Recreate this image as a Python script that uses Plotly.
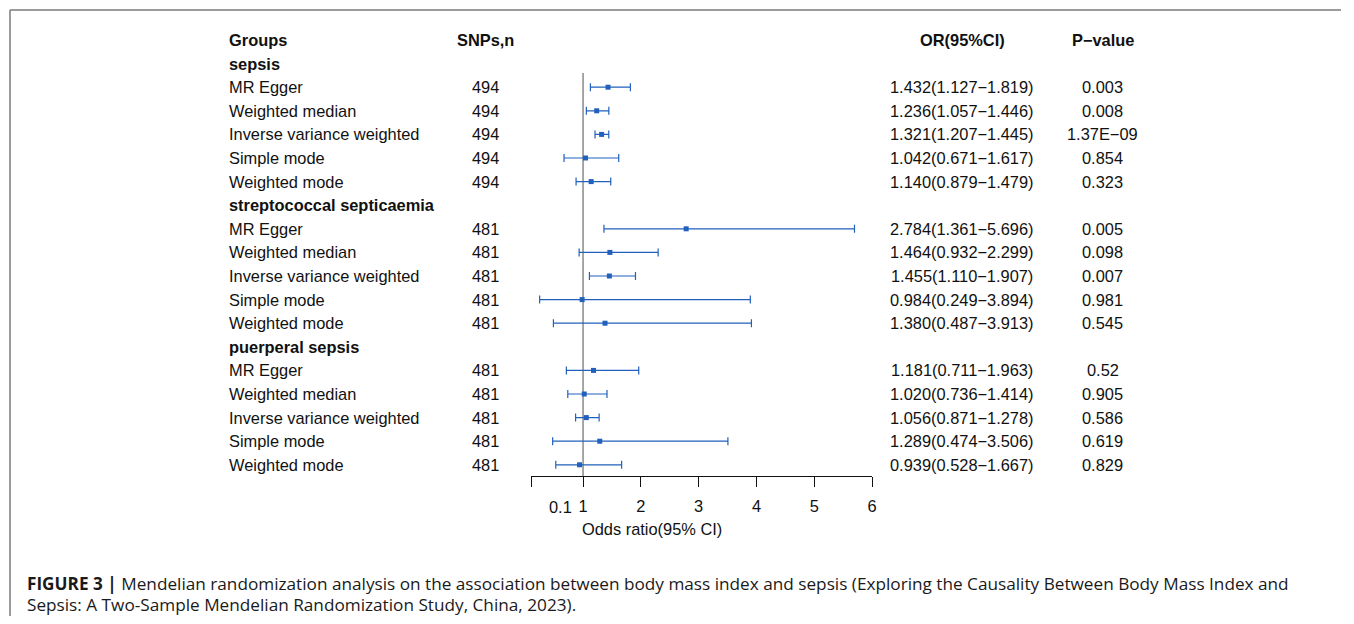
import plotly.graph_objects as go

groups = ["sepsis", "streptococcal septicaemia", "puerperal sepsis"]
methods = ["MR Egger", "Weighted median", "Inverse variance weighted", "Simple mode", "Weighted mode"]
snps = [494, 481, 481]
or_vals = [[1.432, 1.236, 1.321, 1.042, 1.140],
           [2.784, 1.464, 1.455, 0.984, 1.380],
           [1.181, 1.020, 1.056, 1.289, 0.939]]
ci_low = [[1.127, 1.057, 1.207, 0.671, 0.879],
          [1.361, 0.932, 1.110, 0.249, 0.487],
          [0.711, 0.736, 0.871, 0.474, 0.528]]
ci_high = [[1.819, 1.446, 1.445, 1.617, 1.479],
           [5.696, 2.299, 1.907, 3.894, 3.913],
           [1.963, 1.414, 1.278, 3.506, 1.667]]
p_vals = [["0.003", "0.008", "1.37E\u221209", "0.854", "0.323"],
          ["0.005", "0.098", "0.007", "0.981", "0.545"],
          ["0.52", "0.905", "0.586", "0.619", "0.829"]]
tick_vals = [0.1, 1, 2, 3, 4, 5, 6]
tick_text = ["", "1", "2", "3", "4", "5", "6"]

OFF = 8  # page body margin
W, H = 1354 - 2 * OFF, 624 - 2 * OFF
FONT = "Liberation Sans, Arial, sans-serif"
CAPFONT = "Open Sans, Liberation Sans, Arial, sans-serif"
BLUE = "#2160bd"
FS = 16.4

ROW0 = 40.0 - OFF
ROWH = 23.6
AXIS_Y = 476.0 - OFF
y_top = -ROW0 / ROWH
y_bot = (AXIS_Y - ROW0) / ROWH

px = lambda p: (p - OFF) / W   # screen x -> paper
py = lambda p: 1 - (p - OFF) / H  # screen y -> paper

xs, ys, em, ep = [], [], [], []
ann = []

def txt(x, y, s, anchor="center", bold=False, size=FS):
    ann.append(dict(x=px(x), y=y, xref="paper", yref="y", text=("<b>%s</b>" % s) if bold else s,
                    showarrow=False, xanchor=anchor, yanchor="middle",
                    font=dict(family=FONT, size=size, color="#111")))

txt(228, 0, "Groups", "left", True)
txt(487, 0, "SNPs,n", "center", True)
txt(966, 0, "OR(95%CI)", "center", True)
txt(1107, 0, "P\u2212value", "center", True)

row = 1
for g, name in enumerate(groups):
    txt(228, row, name, "left", True)
    row += 1
    for m, meth in enumerate(methods):
        o, lo, hi = or_vals[g][m], ci_low[g][m], ci_high[g][m]
        xs.append(o); ys.append(row); em.append(o - lo); ep.append(hi - o)
        txt(228, row, meth, "left")
        txt(487, row, str(snps[g]))
        txt(966, row, "%.3f(%.3f\u2212%.3f)" % (o, lo, hi))
        txt(1107, row, p_vals[g][m])
        row += 1

fig = go.Figure()
fig.add_trace(go.Scatter(
    x=xs, y=ys, mode="markers",
    marker=dict(symbol="square", size=5, color=BLUE),
    error_x=dict(type="data", symmetric=False, array=ep, arrayminus=em,
                 color=BLUE, thickness=1.2, width=4),
    showlegend=False, hoverinfo="skip"))

# reference line at OR = 1
fig.add_shape(type="line", xref="x", yref="y", x0=1, x1=1, y0=1.4, y1=y_bot,
              line=dict(color="#8a8a8a", width=1.5), layer="below")

# frame lines
fig.add_shape(type="line", xref="paper", yref="paper", x0=px(10), x1=1, y0=py(10), y1=py(10),
              line=dict(color="#7a7a7a", width=1.5))
fig.add_shape(type="line", xref="paper", yref="paper", x0=px(10), x1=px(10), y0=0, y1=py(10),
              line=dict(color="#7a7a7a", width=1.5))

# extra tick label for 0.1 (drawn beside the 1 as in the reference)
ann.append(dict(x=0.61, y=py(507), xref="x", yref="paper", text="0.1", showarrow=False,
                xanchor="center", yanchor="middle",
                font=dict(family=FONT, size=FS, color="#111")))
ann.append(dict(x=px(654), y=py(529), xref="paper", yref="paper", text="Odds ratio(95% CI)",
                showarrow=False, xanchor="center", yanchor="middle",
                font=dict(family=FONT, size=FS, color="#111")))
ann.append(dict(x=px(25), y=py(583), xref="paper", yref="paper",
                text="<b>FIGURE 3 |</b> Mendelian randomization analysis on the association between body mass index and sepsis (Exploring the Causality Between Body Mass Index and",
                showarrow=False, xanchor="left", yanchor="middle",
                font=dict(family=CAPFONT, size=17.2, color="#1a1a1a")))
ann.append(dict(x=px(25), y=py(604), xref="paper", yref="paper",
                text="Sepsis: A Two-Sample Mendelian Randomization Study, China, 2023).",
                showarrow=False, xanchor="left", yanchor="middle",
                font=dict(family=CAPFONT, size=17.2, color="#1a1a1a")))

fig.update_layout(
    width=W, height=H, margin=dict(l=0, r=0, t=0, b=0),
    paper_bgcolor="white", plot_bgcolor="white",
    annotations=ann,
    xaxis=dict(domain=[px(533), px(875.3)], range=[0.1, 6], showgrid=False, zeroline=False,
               showline=True, linecolor="#111", linewidth=1.2,
               ticks="outside", ticklen=10, tickwidth=1.2, tickcolor="#111",
               tickvals=tick_vals, ticktext=tick_text, ticklabelstandoff=5,
               tickfont=dict(family=FONT, size=FS, color="#111")),
    yaxis=dict(domain=[1 - AXIS_Y / H, 1], range=[y_bot, y_top], visible=False),
)

fig.write_html("out.html")
